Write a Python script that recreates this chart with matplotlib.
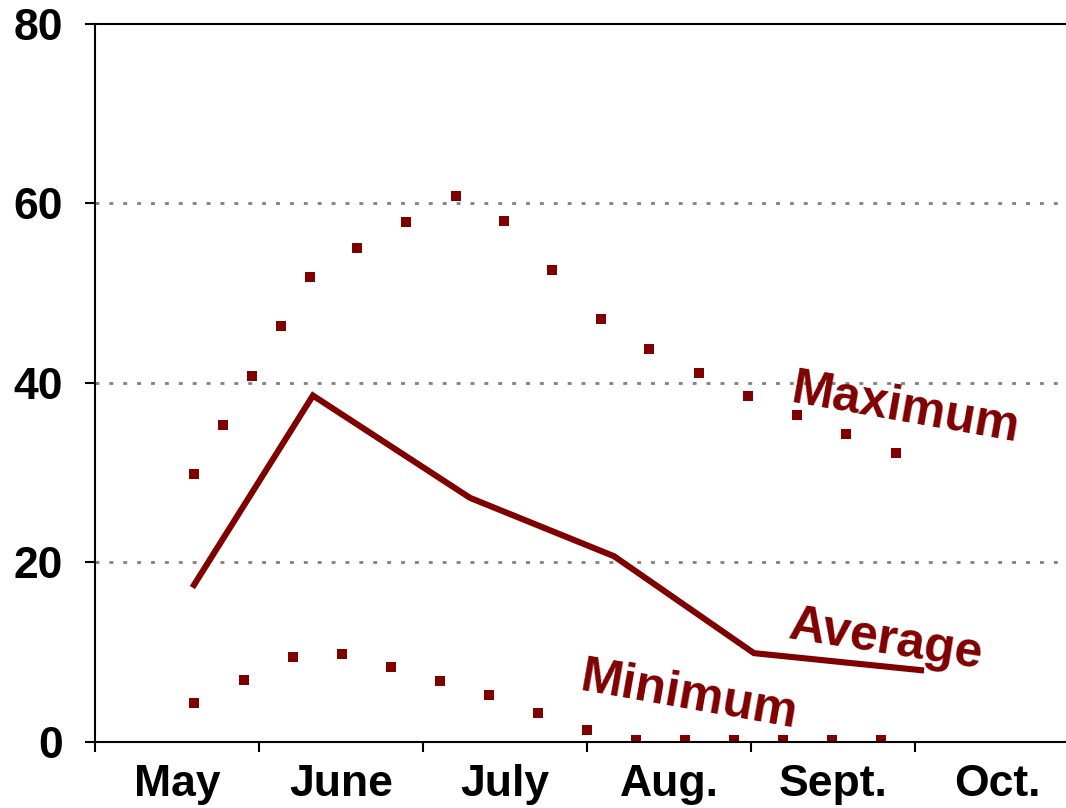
import matplotlib.pyplot as plt

# months on the x axis, x measured in months from the start of May
months = ['May', 'June', 'July', 'Aug.', 'Sept.', 'Oct.']

max_x = [0.604, 0.780, 0.959, 1.136, 1.313, 1.600, 1.898, 2.199, 2.494,
         2.789, 3.083, 3.380, 3.681, 3.980, 4.279, 4.578, 4.884]
max_y = [29.9, 35.3, 40.8, 46.3, 51.8, 55.0, 57.9, 60.8, 58.1,
         52.6, 47.1, 43.8, 41.1, 38.6, 36.4, 34.3, 32.2]

min_x = [0.604, 0.906, 1.206, 1.506, 1.805, 2.104, 2.404, 2.703, 3.002,
         3.299, 3.598, 3.896, 4.195, 4.494, 4.793]
min_y = [4.3, 6.9, 9.5, 9.8, 8.3, 6.8, 5.2, 3.2, 1.3,
         0.2, 0.2, 0.2, 0.2, 0.2, 0.2]

avg_x = [0.604, 1.329, 2.287, 3.165, 4.018, 5.037]
avg_y = [17.5, 38.6, 27.2, 20.7, 9.9, 8.0]

col = '#800000'
plt.rcParams['font.family'] = ['Liberation Sans', 'DejaVu Sans']
plt.rcParams['font.weight'] = 'bold'

fig = plt.figure(figsize=(10.66, 8.08), dpi=100)
ax = fig.add_axes([0.0891, 0.0817, 0.9109, 0.8886])

ax.plot(max_x, max_y, 's', color=col, ms=7.8, mew=0)
ax.plot(min_x, min_y, 's', color=col, ms=7.8, mew=0)
ax.plot(avg_x, avg_y, '-', color=col, lw=4.4, solid_joinstyle='miter')

ax.set_xlim(0, 5.921)
ax.set_ylim(0, 80)

ax.set_yticks([0, 20, 40, 60, 80])
ax.set_xticks(range(6))
ax.set_xticklabels([])
ax.set_xticks([i + 0.5 for i in range(6)], minor=True)
ax.set_xticklabels(months, minor=True)
ax.tick_params(axis='x', which='minor', length=0, pad=16, labelsize=32)
ax.tick_params(axis='x', which='major', length=7, width=1.5, direction='out')
ax.tick_params(axis='y', length=7, width=1.5, pad=16, labelsize=32)

for s in ['left', 'bottom', 'top']:
    ax.spines[s].set_linewidth(1.5)
ax.spines['right'].set_visible(False)

for v in [20, 40, 60]:
    ax.axhline(v, color='#808080', lw=2, dashes=(1.4, 3.6), zorder=0)

ax.text(4.238, 37.9, 'Maximum', color=col, fontsize=36, rotation=-10,
        rotation_mode='anchor', ha='left', va='baseline')
ax.text(4.220, 11.6, 'Average', color=col, fontsize=36, rotation=-9,
        rotation_mode='anchor', ha='left', va='baseline')
ax.text(2.947, 5.79, 'Minimum', color=col, fontsize=36, rotation=-10,
        rotation_mode='anchor', ha='left', va='baseline')

fig.savefig('out.png', dpi=100)
